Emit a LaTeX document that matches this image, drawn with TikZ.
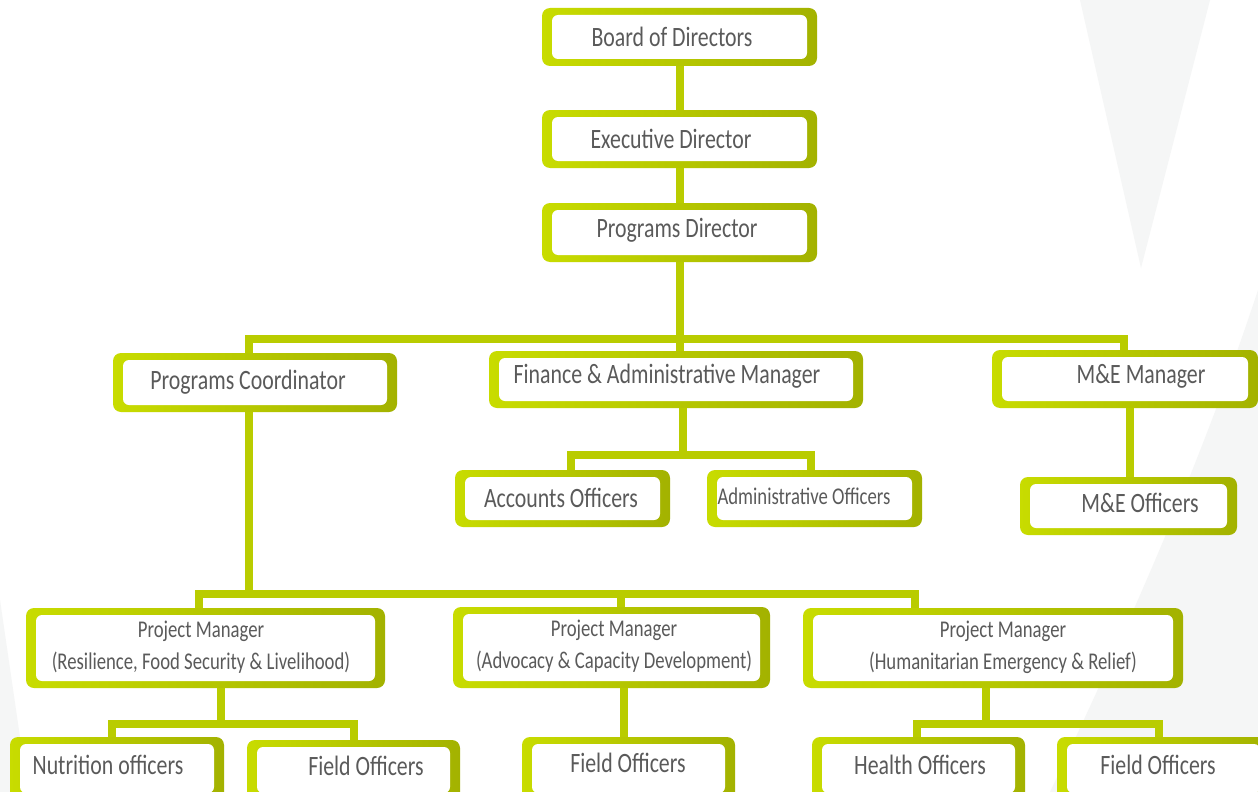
\documentclass[tikz,border=0pt]{standalone}
\usepackage{fontspec}
\newfontfamily\boxfont[FakeStretch=0.78]{Carlito}
\definecolor{limeL}{HTML}{C8DC00}
\definecolor{limeR}{HTML}{A3B200}
\definecolor{connc}{HTML}{B9CC00}
\definecolor{txtg}{HTML}{5A5A5A}
\definecolor{bgswoosh}{HTML}{F5F6F6}
\tikzset{
  frame/.style={rounded corners=8pt, left color=limeL, right color=limeR, draw=none},
  inner/.style={fill=white, rounded corners=6pt},
  lbl/.style={text=txtg, inner sep=0pt, anchor=center, align=center,
    font=\boxfont\fontsize{28}{32}\selectfont},
  lbls/.style={lbl, font=\boxfont\fontsize{24}{32}\selectfont},
  conn/.style={draw=connc, line width=8pt, line join=miter}
}
% name, x1, y1, x2, y2
\newcommand{\frbox}[5]{%
  \path[frame] (#2,#3) rectangle (#4,#5);
  \coordinate (#1-nw) at (#2,#3);
  \coordinate (#1-se) at (#4,#5);
  \node[inner sep=0pt, minimum width=#4-#2, minimum height=#5-#3] (#1) at ({(#2+#4)/2},{(#3+#5)/2}) {};
  \path[inner] ([xshift=10pt,yshift=-7pt]#1-nw) rectangle ([xshift=-10pt,yshift=7pt]#1-se);
}
\begin{document}
\begin{tikzpicture}[x=1pt,y=-1pt]
\useasboundingbox (0,0) rectangle (1258,792);
\clip (0,0) rectangle (1258,792);
\fill[white] (0,0) rectangle (1258,792);
% faint background swooshes
\fill[bgswoosh] (1080,0) -- (1210,0) -- (1141,268) -- cycle;
\fill[bgswoosh] (1258,290) .. controls (1215,420) and (1160,560) .. (1050,792) -- (1258,792) -- cycle;
\fill[bgswoosh] (0,600) -- (28,792) -- (0,792) -- cycle;

\coordinate (barA) at (680,339);
\coordinate (barB) at (680,455);
\coordinate (barC) at (620,594);
\coordinate (barD) at (221,724);
\coordinate (barE) at (986,724);

% boxes
\frbox{bod}{542}{8}{817}{66}
\frbox{ed}{542}{110}{817}{168}
\frbox{pd}{542}{203}{817}{262}
\frbox{pc}{113}{353}{397}{412}
\frbox{fam}{489}{351}{863}{408}
\frbox{mem}{992}{350}{1258}{408}
\frbox{acc}{455}{470}{670}{527}
\frbox{adm}{707}{470}{922}{527}
\frbox{meo}{1020}{477}{1237}{535}
\frbox{pmA}{26}{608}{385}{688}
\frbox{pmB}{453}{607}{770}{688}
\frbox{pmC}{803}{608}{1183}{688}
\frbox{nut}{10}{737}{224}{800}
\frbox{foA}{247}{740}{460}{800}
\frbox{foB}{522}{737}{735}{800}
\frbox{hea}{812}{737}{1025}{800}
\frbox{foC}{1057}{737}{1270}{800}

% connector lines
\draw[conn] ([xshift=0.5pt]bod.south) -- ([xshift=0.5pt]ed.north);
\draw[conn] ([xshift=0.5pt]ed.south) -- ([xshift=0.5pt]pd.north);
\draw[conn] ([xshift=0.5pt]pd.south) -- (barA);
\draw[conn] ([xshift=-6pt]pc.north) -- ([xshift=-6pt]pc.north |- barA) -- ([xshift=-1pt]mem.north |- barA) -- ([xshift=-1pt]mem.north);
\draw[conn] (barA) -- (fam.north -| barA);
\draw[conn] ([xshift=7pt]fam.south) -- ([xshift=7pt]fam.south |- barB);
\draw[conn] ([xshift=8pt]acc.north) -- ([xshift=8pt]acc.north |- barB) -- ([xshift=-4pt]adm.north |- barB) -- ([xshift=-4pt]adm.north);
\draw[conn] ([xshift=4.5pt]mem.south) -- ([xshift=4.5pt]meo.north -| mem.south);
\draw[conn] ([xshift=-6pt]pc.south) -- ([xshift=-6pt]pc.south |- barC);
\draw[conn] ([xshift=-7pt]pmA.north) -- ([xshift=-7pt]pmA.north |- barC) -- ([xshift=-78pt]pmC.north |- barC) -- ([xshift=-78pt]pmC.north);
\draw[conn] ([xshift=9pt]pmB.north |- barC) -- ([xshift=9pt]pmB.north);
\draw[conn] ([xshift=15pt]pmA.south) -- ([xshift=15pt]pmA.south |- barD);
\draw[conn] ([xshift=-5pt]nut.north) -- ([xshift=-5pt]nut.north |- barD) -- ([xshift=0pt]foA.north |- barD) -- ([xshift=0pt]foA.north);
\draw[conn] ([xshift=12pt]pmB.south) -- ([xshift=12pt]pmB.south |- foB.north);
\draw[conn] ([xshift=-7pt]pmC.south) -- ([xshift=-7pt]pmC.south |- barE);
\draw[conn] ([xshift=-2pt]hea.north) -- ([xshift=-2pt]hea.north |- barE) -- ([xshift=-4.5pt]foC.north |- barE) -- ([xshift=-4.5pt]foC.north);

% labels
\node[lbl] (bod-t) at (672,37) {Board of Directors};
\node[lbl] (ed-t) at (671,139) {Executive Director};
\node[lbl] (pd-t) at (677,230) {Programs Director};
\node[lbl] (pc-t) at (248,382) {Programs Coordinator};
\node[lbl] (fam-t) at (667,376) {Finance \& Administrative Manager};
\node[lbl] (mem-t) at (1141,376) {M\&E Manager};
\node[lbl] (acc-t) at (561,498) {Accounts Officers};
\node[lbls] (adm-t) at (804,496) {Administrative Officers};
\node[lbl] (meo-t) at (1140,503) {M\&E Officers};
\node[lbls] (pmA-t) at (201,647) {Project Manager\\(Resilience, Food Security \& Livelihood)};
\node[lbls] (pmB-t) at (614,646) {Project Manager\\(Advocacy \& Capacity Development)};
\node[lbls] (pmC-t) at (1003,647) {Project Manager\\(Humanitarian Emergency \& Relief)};
\node[lbl] (nut-t) at (108,765) {Nutrition officers};
\node[lbl] (foA-t) at (366,766) {Field Officers};
\node[lbl] (foB-t) at (628,763) {Field Officers};
\node[lbl] (hea-t) at (920,765) {Health Officers};
\node[lbl] (foC-t) at (1158,765) {Field Officers};
\end{tikzpicture}
\end{document}
